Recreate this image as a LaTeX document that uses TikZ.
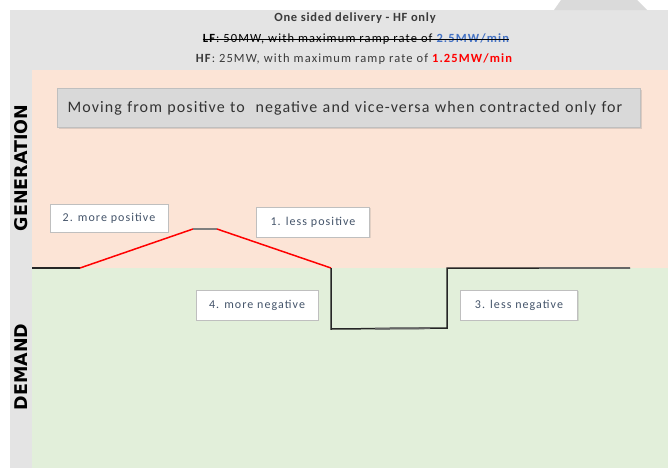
\documentclass[tikz,border=0pt]{standalone}
\usepackage{fontspec}
\setmainfont{Carlito}
\newfontfamily\heavyfont{DejaVu Sans}
\usetikzlibrary{shadows}

\definecolor{framegray}{HTML}{E4E4E4}
\definecolor{tabgray}{HTML}{DADADA}
\definecolor{genpink}{HTML}{FCE4D6}
\definecolor{demgreen}{HTML}{E2EFDA}
\definecolor{boxgray}{HTML}{D9D9D9}
\definecolor{boxedge}{HTML}{BFBFBF}
\definecolor{labeltext}{HTML}{44546A}
\definecolor{titletext}{HTML}{3A3A3A}
\definecolor{linkblue}{HTML}{4472C4}
\definecolor{hotred}{HTML}{FF0000}
\definecolor{flatgray}{HTML}{7F7F7F}

\tikzset{
  sidelabel/.style={rotate=90, font=\heavyfont\bfseries\fontsize{17.5}{17}\selectfont, text=black},
  headline/.style={font=\fontsize{12.5}{14}\selectfont\addfontfeature{LetterSpace=9}, text=titletext},
  infobox/.style={draw=boxedge, line width=1pt, fill=boxgray, rectangle,
    drop shadow={shadow xshift=1pt, shadow yshift=-1.5pt, opacity=0.25},
    text width=563pt, align=left, inner xsep=10pt, minimum height=39pt,
    font=\fontsize{16}{18}\selectfont\addfontfeature{LetterSpace=7}, text=black!80},
  stagebox/.style={draw=boxedge, line width=1pt, fill=white, rectangle,
    drop shadow={shadow xshift=1pt, shadow yshift=-1pt, opacity=0.2},
    minimum height=30pt, font=\fontsize{12}{13}\selectfont\addfontfeature{LetterSpace=9}, text=labeltext},
  levelline/.style={line width=1.5pt, draw=black!85},
  ramp/.style={line width=1.5pt, draw=hotred},
  flat/.style={line width=2.5pt, draw=flatgray},
  strike/.style={line width=1.1pt, draw=black}
}

\begin{document}
\begin{tikzpicture}[x=1pt, y=-1pt]
  \useasboundingbox (0,0) rectangle (668,469);
  \fill[white] (0,0) rectangle (668,469);

  % panel background and the two bands
  \fill[framegray] (10,10) rectangle (668,468);
  \fill[tabgray] (554,10) -- (561,0) -- (637,0) -- (647,10) -- cycle;
  \fill[genpink] (32,70) rectangle (668,268);
  \fill[demgreen] (32,268) rectangle (668,468);

  % headings
  \node[headline, font=\bfseries\fontsize{12.5}{14}\selectfont\addfontfeature{LetterSpace=6}] (title) at (355,18)
    {One sided delivery - HF only};
  \node[headline, text=black, inner xsep=0pt] (lfline) at (356,39)
    {\textbf{LF}: 50MW, with maximum ramp rate of \textcolor{linkblue}{\bfseries 2.5MW/min}};
  \draw[strike] ([yshift=-0.5pt]lfline.west) -- ([yshift=-0.5pt]lfline.east);
  \node[headline] (hfline) at (354,59)
    {\textbf{HF}: 25MW, with maximum ramp rate of \textcolor{hotred}{\bfseries 1.25MW/min}};

  % side labels
  \node[sidelabel] (gen) at (21,168) {GENERATION};
  \node[sidelabel] (dem) at (21,367) {DEMAND};

  % note box
  \node[infobox, anchor=north west] (note) at (57,88)
    {Moving from positive to\ \ negative and vice-versa when contracted only for};

  % delivery profile
  \coordinate (p0) at (32,268);
  \coordinate (p1) at (80,268);
  \coordinate (p2) at (193,229);
  \coordinate (p3) at (217,229);
  \coordinate (p4) at (331,268);
  \coordinate (p5) at (331,329);
  \coordinate (p6) at (447,328);
  \coordinate (p7) at (447,268);
  \coordinate (p8) at (630,268);
  \coordinate (q1) at (375,328.6);
  \coordinate (q2) at (430,328.2);
  \coordinate (q3) at (539,268);

  \draw[levelline] (p0) -- (p1);
  \draw[ramp] (p1) -- (p2);
  \draw[flat] (p2) -- (p3);
  \draw[ramp] (p3) -- (p4);
  \draw[levelline] (p4) -- (p5) -- (p6) -- (p7) -- (p8);
  \draw[line width=2pt, draw=flatgray!80!black] (q1) -- (q2);
  \draw[line width=2pt, draw=flatgray!80!black] (q3) -- (p8);

  % stage labels
  \node[stagebox, minimum width=118pt, minimum height=28pt] (s2) at (109,218) {2. more positive};
  \node[stagebox, minimum width=113pt] (s1) at (313,222) {1. less positive};
  \node[stagebox, minimum width=122pt] (s4) at (257,305) {4. more negative};
  \node[stagebox, minimum width=117pt] (s3) at (519,305) {3. less negative};
\end{tikzpicture}
\end{document}
